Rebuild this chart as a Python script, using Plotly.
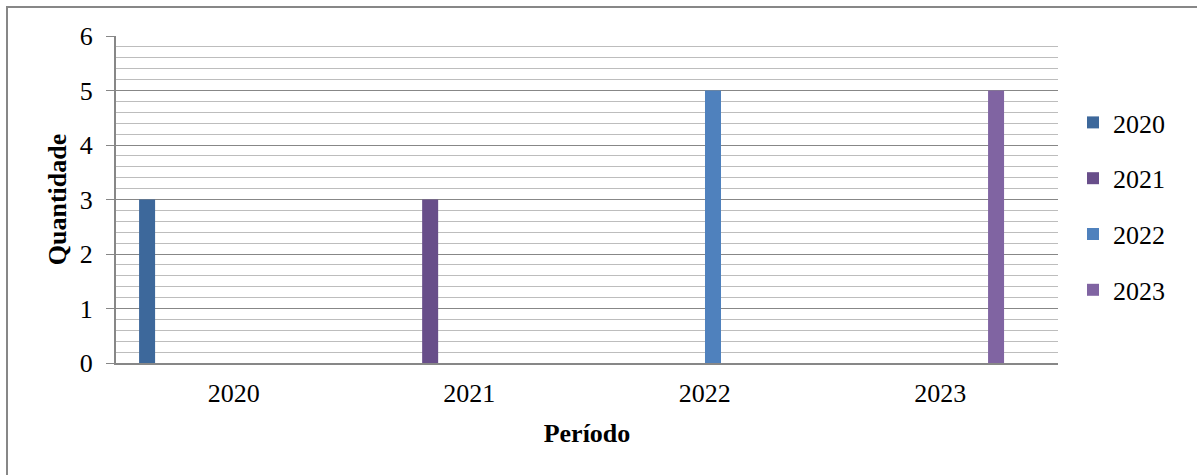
import plotly.graph_objects as go

# Categories (periods) and one series per year
periodos = ["2020", "2021", "2022", "2023"]
series_nomes = ["2020", "2021", "2022", "2023"]
valores = [
    [3, 0, 0, 0],
    [0, 3, 0, 0],
    [0, 0, 5, 0],
    [0, 0, 0, 5],
]
cores = ["#3D689B", "#684E8A", "#4F81BD", "#8064A2"]

FONTE = "Liberation Serif, Times New Roman, serif"
CINZA = "#878787"
CINZA_CLARO = "#bdbdbd"

# Slot offsets within each category (category units)
offsets = [-0.402, -0.200, 0.001, 0.203]
largura = 0.068

fig = go.Figure()
for i, nome in enumerate(series_nomes):
    fig.add_trace(go.Bar(
        x=periodos,
        y=valores[i],
        name=nome,
        marker=dict(color=cores[i], line=dict(width=0)),
        width=largura,
        offset=offsets[i],
        legendgroup=nome,
    ))

fig.update_layout(
    width=1197,
    height=475,
    margin=dict(l=116, r=139, t=36, b=112),
    paper_bgcolor="white",
    plot_bgcolor="white",
    barmode="overlay",
    font=dict(family=FONTE, size=26, color="black"),
    showlegend=True,
    legend=dict(
        xref="container", yref="container",
        x=1073 / 1197, y=1 - 99 / 475,
        xanchor="left", yanchor="top",
        font=dict(family=FONTE, size=26, color="black"),
        tracegroupgap=19,
        itemwidth=30,
        bgcolor="rgba(0,0,0,0)",
    ),
    xaxis=dict(
        type="category",
        range=[-0.5, 3.5],
        showgrid=False,
        showline=True,
        linecolor=CINZA,
        linewidth=2,
        ticks="",
        ticklabelstandoff=6,
        tickfont=dict(family=FONTE, size=26),
        title=dict(text="<b>Período</b>", font=dict(family=FONTE, size=26), standoff=17),
        zeroline=False,
    ),
    yaxis=dict(
        range=[0, 6],
        dtick=1,
        showgrid=True,
        gridcolor=CINZA,
        gridwidth=1,
        showline=True,
        linecolor=CINZA,
        linewidth=2,
        ticks="outside",
        ticklen=8,
        tickcolor=CINZA,
        tickwidth=1,
        ticklabelstandoff=8,
        tickfont=dict(family=FONTE, size=26),
        minor=dict(dtick=0.2, showgrid=True, gridcolor=CINZA_CLARO, gridwidth=1, ticks=""),
        title=dict(text="<b>Quantidade</b>", font=dict(family=FONTE, size=26), standoff=6),
        zeroline=False,
    ),
)

# Outer chart frame
fig.add_shape(
    type="rect", xref="paper", yref="paper",
    x0=(7 - 116) / 942, x1=1.3, y0=-0.5, y1=(363 - 7) / 327,
    line=dict(color=CINZA, width=2), fillcolor="rgba(0,0,0,0)", layer="below",
)

fig.write_html("out.html")
